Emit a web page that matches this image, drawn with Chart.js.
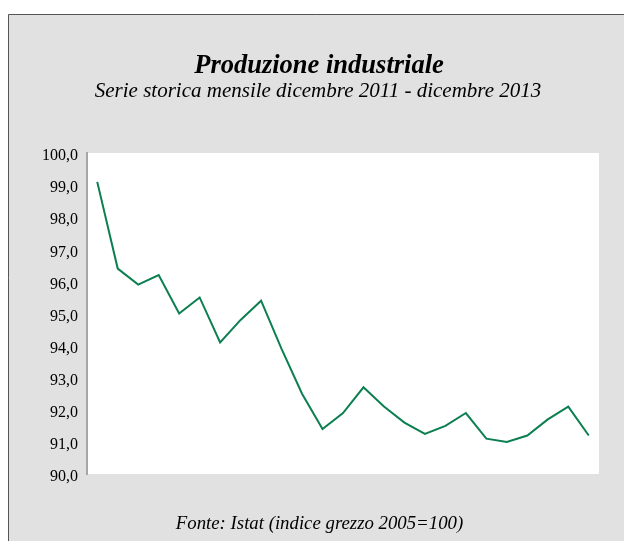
<!DOCTYPE html>
<html>
<head>
<meta charset="utf-8">
<script src="https://cdn.jsdelivr.net/npm/chart.js@4"></script>
<style>
    body { margin: 0; background: #ffffff; }
    #wrap { width: 624px; height: 541px; }
</style>
</head>
<body>
<div id="wrap"><canvas id="prodChart" width="624" height="541"></canvas></div>
<script>
// mesi da dicembre 2011 a dicembre 2013
const months = ['dic-11', 'gen-12', 'feb-12', 'mar-12', 'apr-12', 'mag-12', 'giu-12', 'lug-12', 'ago-12', 'set-12', 'ott-12', 'nov-12', 'dic-12',
    'gen-13', 'feb-13', 'mar-13', 'apr-13', 'mag-13', 'giu-13', 'lug-13', 'ago-13', 'set-13', 'ott-13', 'nov-13', 'dic-13'];
const indexValues = [99.1, 96.4, 95.9, 96.2, 95.0, 95.5, 94.1, 94.8, 95.4, 93.9, 92.5, 91.4, 91.9,
    92.7, 92.1, 91.6, 91.25, 91.5, 91.9, 91.1, 91.0, 91.2, 91.7, 92.1, 91.2];
const yTicks = [90, 91, 92, 93, 94, 95, 96, 97, 98, 99, 100];

const titleText = 'Produzione industriale';
const subtitleText = 'Serie storica mensile dicembre 2011 - dicembre 2013';
const sourceText = 'Fonte: Istat (indice grezzo 2005=100)';

const frame = {
    id: 'frame',
    beforeDraw(chart) {
        const c = chart.ctx;
        const area = chart.chartArea;
        c.save();
        c.fillStyle = '#e1e1e1';
        c.fillRect(8, 14, chart.width - 8, chart.height - 14);
        c.strokeStyle = '#555555';
        c.lineWidth = 1;
        c.beginPath();
        c.moveTo(8.5, chart.height);
        c.lineTo(8.5, 14.5);
        c.lineTo(chart.width, 14.5);
        c.stroke();
        c.fillStyle = '#ffffff';
        c.fillRect(area.left, area.top, area.right - area.left, area.bottom - area.top);

        c.fillStyle = '#000000';
        c.textAlign = 'center';
        c.textBaseline = 'alphabetic';
        c.font = 'italic bold 26.5px "Liberation Serif"';
        c.fillText(titleText, 319, 73);
        c.font = 'italic 21px "Liberation Serif"';
        c.fillText(subtitleText, 318, 97);
        c.font = 'italic 18.8px "Liberation Serif"';
        c.fillText(sourceText, 319.5, 529);
        c.restore();
    }
};

const ctx = document.getElementById('prodChart').getContext('2d');
const prodChart = new Chart(ctx, {
    type: 'line',
    data: {
        labels: months,
        datasets: [{
            label: 'Produzione industriale',
            data: indexValues,
            borderColor: '#0b7f50',
            borderWidth: 2,
            pointRadius: 0,
            fill: false,
            tension: 0
        }]
    },
    options: {
        responsive: false,
        animation: false,
        layout: {
            padding: { left: 0, right: 25, top: 153, bottom: 67 }
        },
        plugins: {
            legend: { display: false },
            tooltip: { enabled: false }
        },
        scales: {
            x: {
                display: false,
                offset: true
            },
            y: {
                min: 90,
                max: 100,
                afterFit: (scale) => { scale.width = 87; },
                afterBuildTicks: (scale) => { scale.ticks = yTicks.map(v => ({ value: v })); },
                grid: { display: false },
                border: { display: true, color: '#a6a6a6', width: 2 },
                ticks: {
                    padding: 1,
                    labelOffset: 3,
                    color: '#000000',
                    font: { family: 'Liberation Serif', size: 16 },
                    callback: (v) => v.toFixed(1).replace('.', ',')
                }
            }
        }
    },
    plugins: [frame]
});
</script>
</body>
</html>
